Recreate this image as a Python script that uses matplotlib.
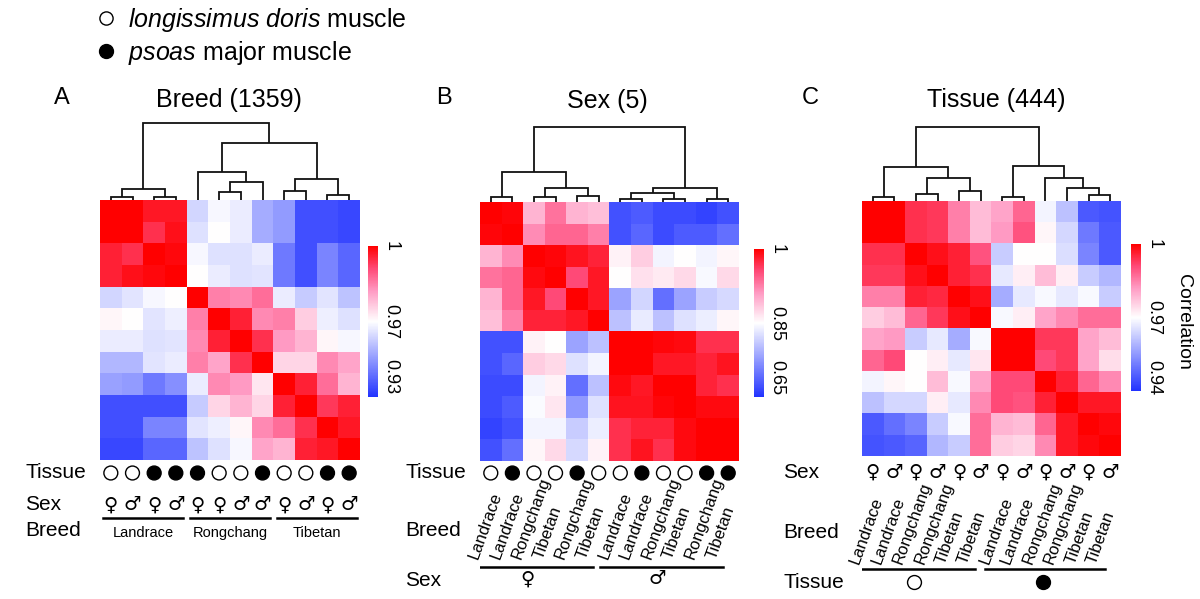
import matplotlib
matplotlib.use("Agg")
import matplotlib.pyplot as plt
import numpy as np
from itertools import groupby
from matplotlib.colors import LinearSegmentedColormap, TwoSlopeNorm
from matplotlib.lines import Line2D

plt.rcParams['font.family'] = ['Liberation Sans', 'DejaVu Sans']
plt.rcParams['mathtext.fontset'] = 'custom'
plt.rcParams['mathtext.it'] = 'Liberation Sans:italic'
plt.rcParams['mathtext.rm'] = 'Liberation Sans'

W, H = 1200, 599

# ---- data ----
corr_A = [
    [1.000, 1.000, 0.997, 0.997, 0.959, 0.968, 0.965, 0.948, 0.943, 0.923, 0.923, 0.921],
    [1.000, 1.000, 0.994, 0.998, 0.962, 0.970, 0.965, 0.948, 0.943, 0.923, 0.923, 0.921],
    [0.996, 0.994, 1.000, 0.999, 0.968, 0.962, 0.962, 0.965, 0.934, 0.923, 0.937, 0.929],
    [0.996, 0.998, 0.999, 1.000, 0.970, 0.965, 0.962, 0.963, 0.934, 0.923, 0.937, 0.929],
    [0.959, 0.963, 0.968, 0.970, 1.000, 0.985, 0.984, 0.987, 0.965, 0.956, 0.963, 0.954],
    [0.971, 0.970, 0.963, 0.966, 0.985, 1.000, 0.996, 0.984, 0.985, 0.976, 0.966, 0.962],
    [0.965, 0.965, 0.962, 0.963, 0.984, 0.996, 1.000, 0.994, 0.982, 0.979, 0.971, 0.968],
    [0.951, 0.951, 0.963, 0.965, 0.985, 0.981, 0.994, 1.000, 0.975, 0.975, 0.984, 0.981],
    [0.945, 0.943, 0.934, 0.940, 0.965, 0.984, 0.982, 0.973, 1.000, 0.996, 0.987, 0.979],
    [0.923, 0.923, 0.923, 0.923, 0.956, 0.975, 0.979, 0.975, 0.996, 1.000, 0.993, 0.996],
    [0.923, 0.923, 0.937, 0.937, 0.963, 0.966, 0.971, 0.984, 0.987, 0.994, 1.000, 0.997],
    [0.921, 0.921, 0.929, 0.929, 0.954, 0.962, 0.968, 0.981, 0.979, 0.996, 0.997, 1.000],
]
corr_B = [
    [1.000, 0.996, 0.895, 0.933, 0.895, 0.888, 0.621, 0.634, 0.612, 0.612, 0.602, 0.621],
    [0.996, 1.000, 0.918, 0.940, 0.940, 0.925, 0.621, 0.648, 0.612, 0.634, 0.634, 0.661],
    [0.895, 0.918, 1.000, 0.996, 0.988, 0.978, 0.858, 0.880, 0.837, 0.850, 0.837, 0.855],
    [0.933, 0.940, 0.993, 1.000, 0.955, 0.985, 0.850, 0.868, 0.862, 0.873, 0.842, 0.873],
    [0.895, 0.940, 0.985, 0.955, 1.000, 0.985, 0.729, 0.796, 0.661, 0.729, 0.783, 0.801],
    [0.888, 0.925, 0.978, 0.978, 0.985, 1.000, 0.769, 0.823, 0.769, 0.810, 0.828, 0.855],
    [0.621, 0.621, 0.858, 0.850, 0.729, 0.769, 1.000, 1.000, 0.996, 0.993, 0.970, 0.970],
    [0.621, 0.648, 0.880, 0.873, 0.810, 0.837, 1.000, 1.000, 0.985, 0.985, 0.978, 0.988],
    [0.612, 0.612, 0.837, 0.858, 0.661, 0.769, 0.993, 0.985, 1.000, 1.000, 0.978, 0.970],
    [0.612, 0.634, 0.845, 0.865, 0.715, 0.810, 0.988, 0.988, 0.996, 1.000, 0.993, 0.993],
    [0.602, 0.621, 0.837, 0.837, 0.783, 0.828, 0.970, 0.978, 0.978, 0.993, 1.000, 1.000],
    [0.621, 0.661, 0.855, 0.873, 0.801, 0.858, 0.970, 0.988, 0.970, 0.993, 1.000, 1.000],
]
corr_C = [
    [1.000, 1.000, 0.994, 0.993, 0.985, 0.978, 0.981, 0.988, 0.968, 0.959, 0.940, 0.939],
    [1.000, 1.000, 0.994, 0.993, 0.985, 0.978, 0.982, 0.990, 0.971, 0.963, 0.946, 0.940],
    [0.994, 0.994, 1.000, 0.998, 0.996, 0.990, 0.961, 0.970, 0.970, 0.964, 0.948, 0.940],
    [0.993, 0.993, 0.998, 1.000, 0.996, 0.994, 0.966, 0.972, 0.978, 0.972, 0.961, 0.957],
    [0.985, 0.985, 0.996, 0.995, 1.000, 0.998, 0.955, 0.966, 0.969, 0.966, 0.969, 0.961],
    [0.976, 0.978, 0.988, 0.993, 0.998, 1.000, 0.969, 0.972, 0.981, 0.984, 0.987, 0.987],
    [0.981, 0.982, 0.961, 0.966, 0.955, 0.969, 1.000, 1.000, 0.993, 0.993, 0.981, 0.978],
    [0.988, 0.991, 0.970, 0.972, 0.966, 0.973, 1.000, 1.000, 0.991, 0.993, 0.981, 0.974],
    [0.968, 0.971, 0.970, 0.978, 0.969, 0.981, 0.991, 0.991, 1.000, 0.996, 0.988, 0.984],
    [0.959, 0.963, 0.963, 0.972, 0.966, 0.984, 0.991, 0.990, 0.996, 1.000, 0.997, 0.997],
    [0.940, 0.944, 0.948, 0.961, 0.969, 0.987, 0.979, 0.978, 0.988, 0.997, 1.000, 0.999],
    [0.939, 0.940, 0.942, 0.957, 0.961, 0.987, 0.976, 0.975, 0.984, 0.997, 0.999, 1.000],
]

# dendrogram merges: (left node, right node, height); new nodes numbered from 12
dendro_A = [(0, 1, 3), (2, 3, 3), (12, 13, 11), (5, 6, 8), (15, 7, 18), (4, 16, 28),
            (8, 9, 9), (10, 11, 5), (18, 19, 21), (17, 20, 57), (14, 21, 77)]
dendro_B = [(0, 1, 5), (2, 3, 5), (4, 5, 6), (13, 14, 14), (12, 15, 30), (6, 7, 3),
            (8, 9, 3), (17, 18, 9), (10, 11, 3), (19, 20, 14), (16, 21, 75)]
dendro_C = [(0, 1, 4), (2, 3, 7), (4, 5, 10), (13, 14, 23), (12, 15, 34), (6, 7, 4),
            (10, 11, 6), (9, 18, 13), (8, 19, 23), (17, 20, 35), (16, 21, 74)]

# 0 = longissimus doris, 1 = psoas major
tissue_A = [0, 0, 1, 1, 1, 0, 0, 1, 0, 0, 1, 1]
sex_A = ['♀', '♂', '♀', '♂', '♀', '♀', '♂', '♂', '♀', '♂', '♀', '♂']
breed_A = ['Landrace'] * 4 + ['Rongchang'] * 4 + ['Tibetan'] * 4

tissue_B = [0, 1, 0, 0, 1, 0, 0, 1, 0, 0, 1, 1]
breed_B = ['Landrace', 'Landrace', 'Rongchang', 'Tibetan', 'Rongchang', 'Tibetan',
           'Landrace', 'Landrace', 'Rongchang', 'Tibetan', 'Rongchang', 'Tibetan']
sex_B = ['♀'] * 6 + ['♂'] * 6

sex_C = ['♀', '♂'] * 6
breed_C = ['Landrace', 'Landrace', 'Rongchang', 'Rongchang', 'Tibetan', 'Tibetan'] * 2
tissue_C = [0] * 6 + [1] * 6

cbar_ticks_A = [1.0, 0.97, 0.93]
cbar_ticks_B = [1.0, 0.85, 0.65]
cbar_ticks_C = [1.0, 0.97, 0.94]

cmap = LinearSegmentedColormap.from_list(
    'bwr2', [(0, '#2233ff'), (0.5, '#ffffff'), (0.7, '#ff9cc4'), (0.85, '#ff4a78'), (1, '#ff0000')])

fig = plt.figure(figsize=(W / 100, H / 100), dpi=100)
fig.patch.set_facecolor('white')


def px_axes(x, y, w, h):
    ax = fig.add_axes([x / W, 1 - (y + h) / H, w / W, h / H])
    ax.set_axis_off()
    return ax


def px_text(x, y, s, **kw):
    kw.setdefault('ha', 'left')
    kw.setdefault('va', 'center')
    fig.text(x / W, 1 - y / H, s, **kw)


def draw_dendro(ax, merges, n=12):
    xs = list(range(n))
    hs = [0] * n
    for a, b, h in merges:
        ax.plot([xs[a], xs[a], xs[b], xs[b]], [hs[a], h, h, hs[b]],
                color='#111111', lw=1.3, solid_joinstyle='miter', solid_capstyle='butt')
        xs.append((xs[a] + xs[b]) / 2)
        hs.append(h)


def panel(hx, hy, hw, hh, corr, dendro, norm, cb_box, ticks):
    ax = px_axes(hx, hy, hw, hh)
    im = ax.imshow(np.array(corr), cmap=cmap, norm=norm, aspect='auto', interpolation='nearest')
    dax = px_axes(hx, hy - 95, hw, 95)
    draw_dendro(dax, dendro)
    dax.set_xlim(-0.5, 11.5)
    dax.set_ylim(0, 95)
    cax = fig.add_axes([cb_box[0] / W, 1 - (cb_box[1] + cb_box[3]) / H, cb_box[2] / W, cb_box[3] / H])
    cb = fig.colorbar(im, cax=cax, ticks=ticks)
    cb.outline.set_visible(False)
    cax.tick_params(length=0, pad=3)
    cax.set_yticklabels([f'{t:g}' for t in ticks], rotation=-90, va='center', fontsize=13)
    ann = px_axes(hx, hy + hh, hw, H - hy - hh)
    ann.set_xlim(-0.5, 11.5)
    ann.set_ylim(H - hy - hh, 0)
    return ann


def groups(labels):
    out, i = [], 0
    for key, g in groupby(labels):
        k = len(list(g))
        out.append((key, i, i + k - 1))
        i += k
    return out


circ = dict(s=100, edgecolors='black', linewidths=1.0, zorder=3)
sym = dict(ha='center', va='center', fontsize=14, family='DejaVu Sans', style='italic')

# ---- panel A ----
annA = panel(100, 200, 260, 260, corr_A, dendro_A,
             TwoSlopeNorm(vcenter=0.97, vmin=0.915, vmax=1.0), (368, 246, 10, 151), cbar_ticks_A)
idx = np.arange(12)
annA.scatter(idx, [13] * 12, c=['white' if t == 0 else 'black' for t in tissue_A], **circ)
for i, s in enumerate(sex_A):
    annA.text(i, 45, s, **sym)
for name, a, b in groups(breed_A):
    annA.plot([a - 0.35, b + 0.35], [58, 58], color='black', lw=1.8)
    annA.text((a + b) / 2, 73, name, ha='center', va='center', fontsize=10.5)

# ---- panel B ----
annB = panel(480, 202, 259, 259, corr_B, dendro_B,
             TwoSlopeNorm(vcenter=0.85, vmin=0.58, vmax=1.0), (754, 249, 10, 148), cbar_ticks_B)
annB.scatter(idx, [12] * 12, c=['white' if t == 0 else 'black' for t in tissue_B], **circ)
for i, s in enumerate(breed_B):
    annB.text(i - 0.8, 97, s, rotation=70, rotation_mode='anchor', ha='left', va='center', fontsize=12)
for name, a, b in groups(sex_B):
    annB.plot([a - 0.95, b - 0.25], [106, 106], color='black', lw=1.8)
    annB.text((a + b) / 2 - 0.8, 118, name, **sym)

# ---- panel C ----
annC = panel(862, 201, 259, 255, corr_C, dendro_C,
             TwoSlopeNorm(vcenter=0.97, vmin=0.933, vmax=1.0), (1131, 244, 10, 147), cbar_ticks_C)
for i, s in enumerate(sex_C):
    annC.text(i, 16, s, **sym)
for i, s in enumerate(breed_C):
    annC.text(i - 0.85, 107, s, rotation=70, rotation_mode='anchor', ha='left', va='center', fontsize=12)
for t, a, b in groups(tissue_C):
    annC.plot([a - 0.82, b - 0.25], [113, 113], color='black', lw=1.8)
    annC.scatter([(a + b) / 2 - 0.6], [126], c=['white' if t == 0 else 'black'], **circ)

# ---- row labels, titles ----
for x, rows in [(25, [('Tissue', 473), ('Sex', 505), ('Breed', 531)]),
                (405, [('Tissue', 473), ('Breed', 530), ('Sex', 580)]),
                (783, [('Sex', 472), ('Breed', 532), ('Tissue', 582)])]:
    for s, y in rows:
        px_text(x, y, s, fontsize=15)

px_text(62, 98, 'A', ha='center', fontsize=17)
px_text(444, 98, 'B', ha='center', fontsize=17)
px_text(810, 98, 'C', ha='center', fontsize=17)
px_text(229, 100, 'Breed (1359)', ha='center', fontsize=18)
px_text(607, 101, 'Sex (5)', ha='center', fontsize=18)
px_text(996, 100, 'Tissue (444)', ha='center', fontsize=18)
px_text(1183, 322, 'Correlation', ha='center', rotation=-90, fontsize=14)

handles = [Line2D([], [], ls='none', marker='o', ms=9.5, mfc='white', mec='black', mew=1.0),
           Line2D([], [], ls='none', marker='o', ms=10, mfc='black', mec='black')]
fig.legend(handles, [r'$\mathit{longissimus\ doris}$ muscle', r'$\mathit{psoas}$ major muscle'],
           loc='upper left', bbox_to_anchor=(97 / W, 1 - 6 / H), frameon=False, fontsize=18,
           handlelength=0.7, handletextpad=0.55, labelspacing=0.2, borderpad=0, borderaxespad=0)

fig.savefig('out.png', dpi=100, facecolor='white')
